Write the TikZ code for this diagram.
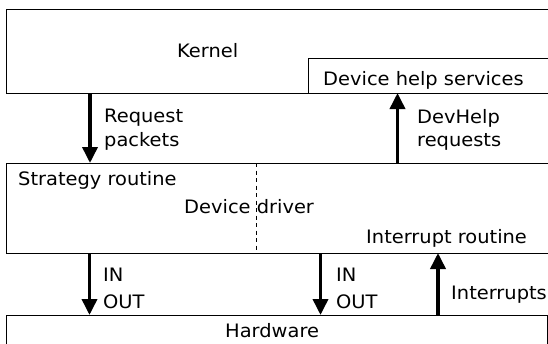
\documentclass[tikz,border=0pt]{standalone}
\usepackage{fontspec}
\setmainfont{DejaVu Sans}[FakeStretch=1.05]
\usetikzlibrary{arrows.meta}
\begin{document}
\begin{tikzpicture}[x=1pt,y=-1pt,
  boxline/.style={line width=0.9pt},
  flow/.style={line width=3.6pt,-{Triangle[width=15pt,length=16pt]}},
  lbl/.style={anchor=base west,inner sep=0pt,font=\fontsize{18.5}{22}\selectfont}]
\useasboundingbox (0,0) rectangle (548,343);
% coordinates
\coordinate (kTR) at (560,9);
\coordinate (kTL) at (6,9);
\coordinate (kBL) at (6,93);
\coordinate (kBR) at (560,93);
\coordinate (hTR) at (560,58);
\coordinate (hTL) at (308,58);
\coordinate (hBL) at (308,93);
\coordinate (dTR) at (560,163);
\coordinate (dTL) at (6,163);
\coordinate (dBL) at (6,253);
\coordinate (dBR) at (560,253);
\coordinate (dsT) at (256,163);
\coordinate (dsB) at (256,253);
\coordinate (wBL) at (6,360);
\coordinate (wTL) at (6,315);
\coordinate (wTR) at (547,315);
\coordinate (wBR) at (547,360);
% boxes
\draw[boxline] (kTR) -- (kTL) -- (kBL) -- (kBR);
\draw[boxline] (hTR) -- (hTL) -- (hBL);
\draw[boxline] (dTR) -- (dTL) -- (dBL) -- (dBR);
\draw[line width=0.8pt,dash pattern=on 4pt off 3.5pt] (dsT) -- (dsB);
\draw[boxline] (wBL) -- (wTL) -- (wTR) -- (wBR);
% arrow end points
\coordinate (a1s) at (90,93);   \coordinate (a1e) at (90,163);
\coordinate (a2s) at (397.5,163); \coordinate (a2e) at (397.5,93);
\coordinate (a3s) at (89.5,253); \coordinate (a3e) at (89.5,315);
\coordinate (a4s) at (320.5,253); \coordinate (a4e) at (320.5,315);
\coordinate (a5s) at (438,315); \coordinate (a5e) at (438,253);
\draw[flow] (a1s) -- (a1e);
\draw[flow] (a2s) -- (a2e);
\draw[flow] (a3s) -- (a3e);
\draw[flow] (a4s) -- (a4e);
\draw[flow] (a5s) -- (a5e);
% texts
\node[lbl] (kernel) at (177,57) {Kernel};
\node[lbl] (dhs) at (323,85) {Device help services};
\node[lbl] (req1) at (104,122) {Request};
\node[lbl] (req2) at (104,146) {packets};
\node[lbl] (dh1) at (417,123) {DevHelp};
\node[lbl] (dh2) at (417,146) {requests};
\node[lbl] (strat) at (18,185) {Strategy routine};
\node[lbl] (drv) at (184,213) {Device driver};
\node[lbl] (intr) at (366,243) {Interrupt routine};
\node[lbl] (in1) at (103,281) {IN};
\node[lbl] (out1) at (103,308) {OUT};
\node[lbl] (in2) at (336,281) {IN};
\node[lbl] (out2) at (336,308) {OUT};
\node[lbl] (ints) at (451,299) {Interrupts};
\node[lbl] (hw) at (225,337) {Hardware};
\end{tikzpicture}
\end{document}
